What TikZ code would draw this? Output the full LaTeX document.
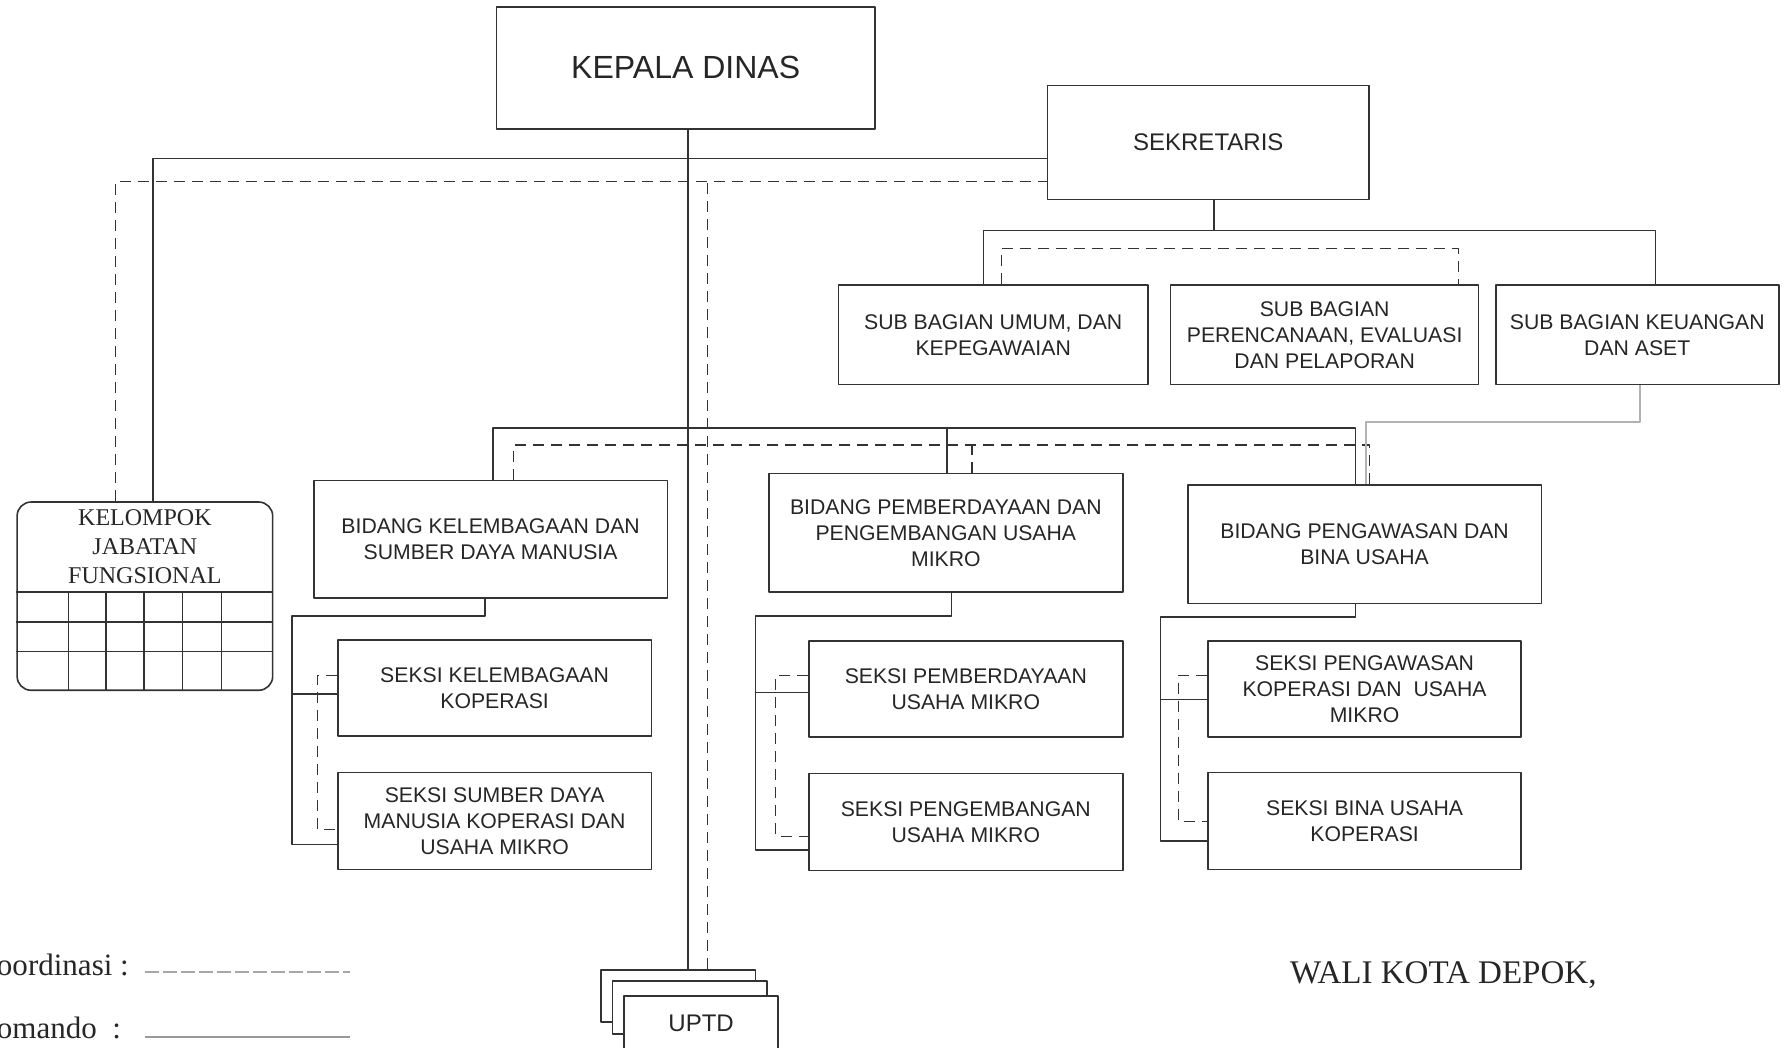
\documentclass[tikz,border=0pt]{standalone}
\usepackage{fontspec}
\setmainfont{Liberation Serif}
\setsansfont{Liberation Sans}
\tikzset{
  box/.style 2 args={draw=black!80, line width=0.8pt, fill=white, inner sep=0pt, align=center, text=black!85,
    font=\sffamily\fontsize{10.6}{13}\selectfont, minimum width=#1*0.57pt, minimum height=#2*0.57pt},
  link/.style={draw=black!80, line width=0.8pt},
  koord/.style={draw=black!80, line width=0.6pt, dash pattern=on 5.5pt off 3.5pt},
}
\begin{document}
\begin{tikzpicture}[x=0.57pt, y=-0.57pt, line join=round]
\useasboundingbox (0,0) rectangle (1568,918);
\node[box={332}{107}, font=\sffamily\fontsize{16}{19}\selectfont] (kepala) at (601,59.5) {KEPALA DINAS};
\node[box={282}{100}, font=\sffamily\fontsize{12}{14}\selectfont] (sekr) at (1059,125) {SEKRETARIS};
\node[box={271}{87}] (umum) at (870.5,293.5) {SUB BAGIAN UMUM, DAN\\KEPEGAWAIAN};
\node[box={270}{87}] (renc) at (1161,293.5) {SUB BAGIAN\\PERENCANAAN, EVALUASI\\DAN PELAPORAN};
\node[box={248}{87}] (keu) at (1435,293.5) {SUB BAGIAN KEUANGAN\\DAN ASET};
\node[box={310}{103}] (blem) at (430,472.5) {BIDANG KELEMBAGAAN DAN\\SUMBER DAYA MANUSIA};
\node[box={310}{104}] (bpem) at (829,467) {BIDANG PEMBERDAYAAN DAN\\PENGEMBANGAN USAHA\\MIKRO};
\node[box={310}{104}] (bwas) at (1196,477) {BIDANG PENGAWASAN DAN\\BINA USAHA};
\node[box={275}{84}] (slem1) at (433.5,603) {SEKSI KELEMBAGAAN\\KOPERASI};
\node[box={275}{85}] (slem2) at (433.5,719.5) {SEKSI SUMBER DAYA\\MANUSIA KOPERASI DAN\\USAHA MIKRO};
\node[box={275}{84}] (spem1) at (846.5,604) {SEKSI PEMBERDAYAAN\\USAHA MIKRO};
\node[box={275}{85}] (spem2) at (846.5,720.5) {SEKSI PENGEMBANGAN\\USAHA MIKRO};
\node[box={274}{84}] (swas1) at (1196,604) {SEKSI PENGAWASAN\\KOPERASI DAN \ USAHA\\MIKRO};
\node[box={274}{85}] (swas2) at (1196,719.5) {SEKSI BINA USAHA\\KOPERASI};
\node[draw=black!80, line width=0.8pt, rounded corners=7pt, minimum width=224*0.57pt, minimum height=165*0.57pt] (kjf) at (127,522.5) {};
\node[font=\fontsize{12}{14.5}\selectfont, align=center, text=black!85] (kjfname) at (127,479) {KELOMPOK\\JABATAN\\FUNGSIONAL};
\foreach \y in {519,545,571} \draw[link] (kjf.west |- 0,\y) -- (kjf.east |- 0,\y);
\foreach \x in {60,93,126,160,194} \draw[link] (\x,519) -- (kjf.south -| \x,0);
\node[box={135}{46}] (uptd1) at (594.5,873) {};
\node[box={135}{46}] (uptd2) at (604.5,883) {};
\node[box={135}{47}, font=\sffamily\fontsize{12}{14}\selectfont] (uptd3) at (614.5,896.5) {UPTD};
\coordinate (sbar) at (1064,202);
\coordinate (bbar) at (603,375);
\draw[link] (kepala.south -| 603,0) -- (uptd1.north -| 603,0);
\draw[link] (kjf.north -| 134,0) |- (sekr.west |- 0,139);
\draw[link] (sekr.south -| sbar) -- (sbar);
\draw[link] (umum.north -| 862,0) |- (sbar) -| (keu.north -| 1451,0);
\draw[link] (blem.north -| 432,0) |- (bbar) -| (bwas.north -| 1188,0);
\draw[link] (bpem.north -| 830,0) -- (bbar -| 830,0);
\draw[link] (blem.south -| 425,0) |- (256,540) |- (slem2.west |- 0,740);
\draw[link] (256,608) -- (slem1.west |- 0,608);
\draw[link] (bpem.south -| 834,0) |- (662,540) |- (spem2.west |- 0,745);
\draw[link] (662,607) -- (spem1.west |- 0,607);
\draw[link] (bwas.south -| 1188,0) |- (1017,541) |- (swas2.west |- 0,737);
\draw[link] (1017,613) -- (swas1.west |- 0,613);
\draw[koord] (kjf.north -| 101,0) |- (sekr.west |- 0,159);
\draw[koord] (uptd1.north -| 620,0) -- (620,159);
\draw[koord] (umum.north -| 878,0) |- (1278,218) -- (renc.north -| 1278,0);
\draw[koord] (blem.north -| 450,0) |- (1200,390) -- (bwas.north -| 1200,0);
\draw[koord] (bpem.north -| 852,0) -- (852,390);
\draw[koord] (slem1.west |- 0,592) -| (278,727) -- (slem2.west |- 0,727);
\draw[koord] (spem1.west |- 0,592) -| (680,733) -- (spem2.west |- 0,733);
\draw[koord] (swas1.west |- 0,592) -| (1033,720) -- (swas2.west |- 0,720);
\draw[draw=black!30, line width=1pt] (keu.south -| 1437,0) |- (1197,370) -- (bwas.north -| 1197,0);
\node[anchor=base west, font=\fontsize{15.5}{18}\selectfont, text=black!85, inner sep=0pt] (lkoord) at (-3,855) {oordinasi :};
\node[anchor=base west, font=\fontsize{15.5}{18}\selectfont, text=black!85, inner sep=0pt] (lkom) at (-3,910) {omando~~:};
\draw[black!35, line width=0.7pt, dash pattern=on 7pt off 2pt] (127,852) -- (307,852);
\draw[black!40, line width=0.8pt] (127,909) -- (307,909);
\node[anchor=base, font=\fontsize{16.5}{20}\selectfont, text=black!85, inner sep=0pt] (wali) at (1265,862) {WALI KOTA DEPOK,};
\end{tikzpicture}
\end{document}
